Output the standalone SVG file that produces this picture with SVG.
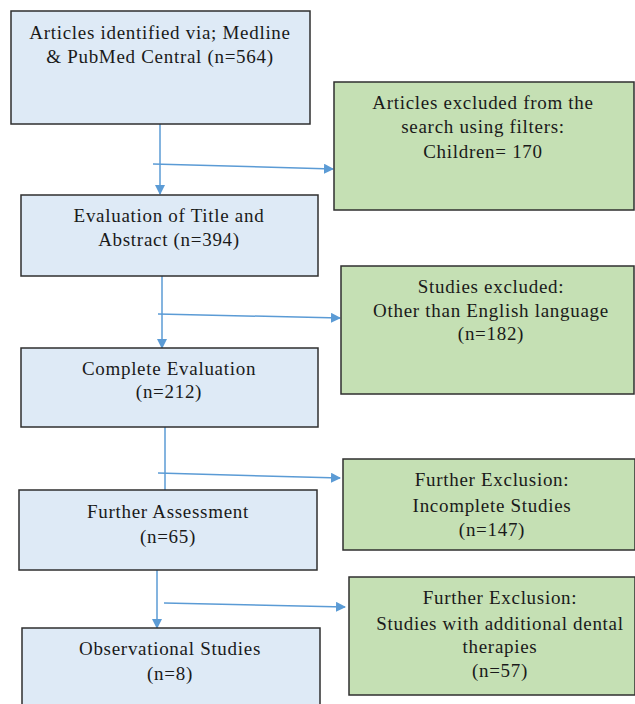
<svg xmlns="http://www.w3.org/2000/svg" width="635" height="704" viewBox="0 0 635 704">
<style>
.blue{fill:#deeaf6;stroke:#2f2f2f;stroke-width:1.5}
.green{fill:#c5e0b4;stroke:#2f2f2f;stroke-width:1.5}
.t{font-family:"Liberation Serif","Times New Roman",serif;font-size:19px;letter-spacing:0.7px;fill:#1a1a1a;text-anchor:middle}
.c{stroke:#5b9bd5;stroke-width:1.5;fill:none}
</style>
<defs>
<marker id="ah" markerWidth="10" markerHeight="10" refX="9" refY="5" orient="auto" markerUnits="userSpaceOnUse">
<path d="M0,0 L10,5 L0,10 Z" fill="#5b9bd5"/>
</marker>
</defs>
<rect width="635" height="704" fill="#ffffff"/>
<g id="connectors">
<line class="c" x1="160" y1="124" x2="160" y2="194" marker-end="url(#ah)"/>
<line class="c" x1="153" y1="164" x2="333" y2="169" marker-end="url(#ah)"/>
<line class="c" x1="162" y1="276" x2="162" y2="348" marker-end="url(#ah)"/>
<line class="c" x1="158" y1="314" x2="340" y2="318" marker-end="url(#ah)"/>
<line class="c" x1="165" y1="427" x2="165" y2="490"/>
<line class="c" x1="158" y1="473" x2="340" y2="478" marker-end="url(#ah)"/>
<line class="c" x1="157" y1="570" x2="157" y2="628" marker-end="url(#ah)"/>
<line class="c" x1="164" y1="603" x2="345" y2="607" marker-end="url(#ah)"/>
</g>
<g id="n1"><rect class="blue" x="11" y="11" width="299" height="113"/>
<text class="t" x="160" y="39">Articles identified via; Medline</text>
<text class="t" x="160" y="63">&amp; PubMed Central (n=564)</text></g>
<g id="n2"><rect class="green" x="334" y="82" width="300" height="128"/>
<text class="t" x="483" y="109">Articles  excluded from the</text>
<text class="t" x="483" y="133">search using filters:</text>
<text class="t" x="483" y="158">Children= 170</text></g>
<g id="n3"><rect class="blue" x="21" y="195" width="297" height="81"/>
<text class="t" x="169" y="222">Evaluation of Title and</text>
<text class="t" x="169" y="246">Abstract (n=394)</text></g>
<g id="n4"><rect class="green" x="341" y="266" width="293" height="128"/>
<text class="t" x="491" y="293">Studies excluded:</text>
<text class="t" x="491" y="317">Other than English language</text>
<text class="t" x="491" y="340">(n=182)</text></g>
<g id="n5"><rect class="blue" x="21" y="348" width="297" height="79"/>
<text class="t" x="169" y="375">Complete Evaluation</text>
<text class="t" x="169" y="398">(n=212)</text></g>
<g id="n6"><rect class="green" x="343" y="459" width="292" height="91"/>
<text class="t" x="492" y="486">Further Exclusion:</text>
<text class="t" x="492" y="512">Incomplete Studies</text>
<text class="t" x="492" y="536">(n=147)</text></g>
<g id="n7"><rect class="blue" x="19" y="490" width="298" height="80"/>
<text class="t" x="168" y="518">Further Assessment</text>
<text class="t" x="168" y="543">(n=65)</text></g>
<g id="n8"><rect class="green" x="349" y="577" width="286" height="118"/>
<text class="t" x="500" y="604">Further Exclusion:</text>
<text class="t" x="500" y="630">Studies with additional dental</text>
<text class="t" x="500" y="653">therapies</text>
<text class="t" x="500" y="677">(n=57)</text></g>
<g id="n9"><rect class="blue" x="22" y="628" width="298" height="90"/>
<text class="t" x="170" y="655">Observational Studies</text>
<text class="t" x="170" y="680">(n=8)</text></g>
</svg>
